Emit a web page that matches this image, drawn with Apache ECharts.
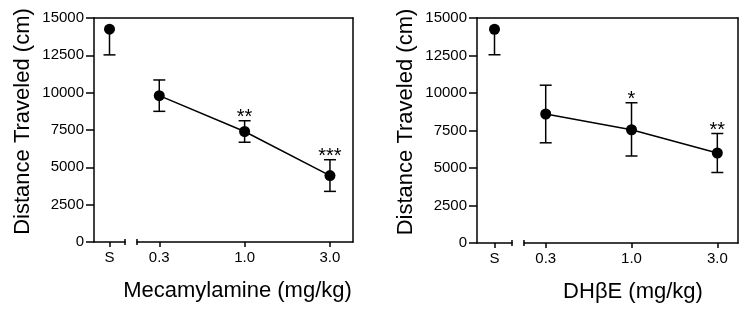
<!DOCTYPE html>
<html>
<head>
<meta charset="utf-8">
<script src="https://cdn.jsdelivr.net/npm/echarts@6/dist/echarts.min.js"></script>
<style>
html, body { margin: 0; padding: 0; background: #fff; }
#container { width: 747px; height: 312px; }
</style>
</head>
<body>
<div id="container"></div>
<script>
var dom = document.getElementById('container');
var myChart = echarts.init(dom);

// groups: saline, then doses (mg/kg)
var groups = ['S', '0.3', '1.0', '3.0'];
var yMax = 15000;
var yStep = 2500;

var mecMean = [14250, 9800, 7400, 4450];
var mecErrUp = [0, 1050, 720, 1060];
var mecErrDown = [1720, 1050, 720, 1060];
var mecStars = ['', '', '**', '***'];

var dhbeMean = [14250, 8600, 7550, 6000];
var dhbeErrUp = [0, 1920, 1800, 1300];
var dhbeErrDown = [1700, 1920, 1750, 1300];
var dhbeStars = ['', '', '*', '**'];

var FONT = '"Liberation Sans", Arial, sans-serif';
var LW = 1.5;

var grid = [], xAxis = [], yAxis = [], series = [];

function errorSeries(xi, yi, pts, marks) {
    return {
        type: 'custom',
        xAxisIndex: xi,
        yAxisIndex: yi,
        silent: true,
        z: 2,
        data: pts,
        renderItem: function (params, api) {
            var x = api.value(0);
            var lo = api.coord([x, api.value(1)]);
            var hi = api.coord([x, api.value(2)]);
            var mid = api.coord([x, api.value(3)]);
            var st = { stroke: '#000', lineWidth: LW };
            var kids = [
                { type: 'line', shape: { x1: lo[0], y1: lo[1], x2: hi[0], y2: hi[1] }, style: st },
                { type: 'line', shape: { x1: lo[0] - 6, y1: lo[1], x2: lo[0] + 6, y2: lo[1] }, style: st }
            ];
            if (hi[1] < mid[1] - 0.5) {
                kids.push({ type: 'line', shape: { x1: hi[0] - 6, y1: hi[1], x2: hi[0] + 6, y2: hi[1] }, style: st });
            }
            var s = marks[params.dataIndex];
            if (s) {
                kids.push({
                    type: 'text',
                    style: {
                        text: s, x: hi[0], y: hi[1] + 7,
                        align: 'center', verticalAlign: 'bottom',
                        fontSize: 20, fontFamily: FONT, fill: '#000'
                    }
                });
            }
            return { type: 'group', children: kids };
        }
    };
}

function addPanel(cfg, mean, up, down, stars) {
    var g0 = grid.length;
    grid.push({ left: cfg.left, right: cfg.right, top: 18, bottom: cfg.bottom });
    grid.push({ left: cfg.left, width: cfg.sWidth, top: 18, bottom: cfg.bottom });
    grid.push({ left: cfg.left + cfg.sWidth + cfg.gap, right: cfg.right, top: 18, bottom: cfg.bottom });

    // frame: top border
    xAxis.push({
        gridIndex: g0, type: 'value', position: 'top', min: 0, max: 1,
        axisLine: { show: true, onZero: false, lineStyle: { color: '#000', width: LW } },
        axisTick: { show: false }, axisLabel: { show: false }, splitLine: { show: false }
    });
    // frame: left y axis
    yAxis.push({
        gridIndex: g0, type: 'value', min: 0, max: yMax, interval: yStep, position: 'left',
        name: 'Distance Traveled (cm)', nameLocation: 'middle', nameGap: 60,
        nameTextStyle: { fontSize: 22, fontFamily: FONT, color: '#000', padding: [0, 0, 0, 17] },
        axisLine: { show: true, onZero: false, lineStyle: { color: '#000', width: LW } },
        axisTick: { show: true, length: 8, lineStyle: { color: '#000', width: LW } },
        axisLabel: { fontSize: 15, fontFamily: FONT, color: '#000', margin: 10,
            formatter: function (v) { return String(v); } },
        splitLine: { show: false }
    });

    // saline segment
    var xs = xAxis.length;
    xAxis.push({
        gridIndex: g0 + 1, type: 'category', position: 'bottom', data: [groups[0]],
        axisLine: { show: true, onZero: false, lineStyle: { color: '#000', width: LW } },
        axisTick: { show: true, alignWithLabel: true, length: 5, lineStyle: { color: '#000', width: LW } },
        axisLabel: { fontSize: 15, fontFamily: FONT, color: '#000', margin: 8 }
    });
    xAxis.push({
        gridIndex: g0 + 1, type: 'value', position: 'bottom', min: 0, max: 1, offset: -3,
        axisLine: { show: false },
        axisTick: { show: true, length: 6, customValues: [1], lineStyle: { color: '#000', width: LW } },
        axisLabel: { show: false }, splitLine: { show: false }
    });
    var ys = yAxis.length;
    yAxis.push({
        gridIndex: g0 + 1, type: 'value', min: 0, max: yMax, show: false
    });

    // dose segment
    var xd = xAxis.length;
    xAxis.push({
        gridIndex: g0 + 2, type: 'value', position: 'bottom', min: cfg.dMin, max: cfg.dMax,
        name: cfg.xName, nameLocation: 'middle', nameGap: 38,
        nameTextStyle: { fontSize: 22, fontFamily: FONT, color: '#000', padding: cfg.namePad },
        axisLine: { show: true, onZero: false, lineStyle: { color: '#000', width: LW } },
        axisTick: { show: true, length: 5, customValues: [0, 1, 2], lineStyle: { color: '#000', width: LW } },
        axisLabel: { fontSize: 15, fontFamily: FONT, color: '#000', margin: 8, customValues: [0, 1, 2],
            formatter: function (v) { return groups[Math.round(v) + 1]; } },
        splitLine: { show: false }
    });
    xAxis.push({
        gridIndex: g0 + 2, type: 'value', position: 'bottom', min: 0, max: 1, offset: -3,
        axisLine: { show: false },
        axisTick: { show: true, length: 6, customValues: [0], lineStyle: { color: '#000', width: LW } },
        axisLabel: { show: false }, splitLine: { show: false }
    });
    var yd = yAxis.length;
    yAxis.push({
        gridIndex: g0 + 2, type: 'value', min: 0, max: yMax, position: 'right',
        axisLine: { show: true, onZero: false, lineStyle: { color: '#000', width: LW } },
        axisTick: { show: false }, axisLabel: { show: false }, splitLine: { show: false }
    });

    // saline point + error bar
    series.push(errorSeries(xs, ys,
        [[groups[0], mean[0] - down[0], mean[0] + up[0], mean[0]]], [stars[0]]));
    series.push({
        type: 'scatter', xAxisIndex: xs, yAxisIndex: ys, z: 3,
        symbol: 'circle', symbolSize: 11, itemStyle: { color: '#000', opacity: 1 },
        data: [[groups[0], mean[0]]]
    });

    // dose-response
    var pts = [], line = [];
    for (var i = 1; i < groups.length; i++) {
        pts.push([i - 1, mean[i] - down[i], mean[i] + up[i], mean[i]]);
        line.push([i - 1, mean[i]]);
    }
    series.push(errorSeries(xd, yd, pts, stars.slice(1)));
    series.push({
        type: 'line', xAxisIndex: xd, yAxisIndex: yd, z: 3,
        symbol: 'circle', symbolSize: 11, showSymbol: true,
        itemStyle: { color: '#000', opacity: 1 }, lineStyle: { color: '#000', width: LW },
        data: line
    });
}

addPanel({ left: 94, right: 394, bottom: 70, sWidth: 31, gap: 12, dMin: -0.261, dMax: 2.27,
    xName: 'Mecamylamine (mg/kg)', namePad: [0, 15, 0, 0] },
    mecMean, mecErrUp, mecErrDown, mecStars);
addPanel({ left: 477, right: 9, bottom: 69, sWidth: 35, gap: 12, dMin: -0.253, dMax: 2.241,
    xName: 'DH\u03B2E (mg/kg)', namePad: [0, 0, 0, 4] },
    dhbeMean, dhbeErrUp, dhbeErrDown, dhbeStars);

var option = {
    backgroundColor: '#fff',
    animation: false,
    grid: grid,
    xAxis: xAxis,
    yAxis: yAxis,
    series: series
};
myChart.setOption(option);
</script>
</body>
</html>
